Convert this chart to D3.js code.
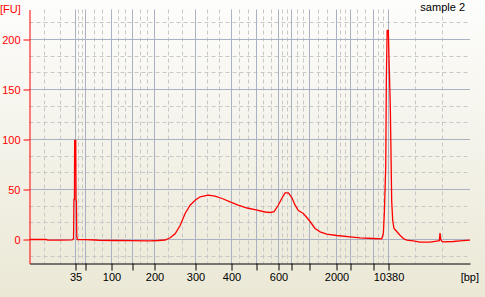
<!DOCTYPE html>
<html>
<head>
<meta charset="utf-8">
<script src="https://cdn.jsdelivr.net/npm/d3@7"></script>
<style>
  body { margin: 0; }
  svg { display: block; font-family: "Liberation Sans", Arial, sans-serif; font-size: 11px; }
</style>
</head>
<body>
<svg id="chart" width="485" height="297"></svg>
<script>
// ladder sizes [bp] and their migration times [s]
var ladderBp    = [35, 50, 100, 150, 200, 300, 400, 500, 600, 700, 1000, 2000, 3000, 7000, 10380]
var ladderTime  = [49.19, 51.26, 56.31, 60.65, 64.96, 73.23, 80.34, 85.33, 89.72, 92.40, 95.99, 101.24, 104.04, 108.69, 111.69]
var shownLabels = [35, 100, 200, 300, 400, 600, 2000, 10380]
var fuTicks     = [0, 50, 100, 150, 200]

// electropherogram: time [s]
var traceTime = [40.00, 43.33, 43.60, 46.13, 48.53, 48.80, 48.88, 48.98, 49.02, 49.24, 49.30, 49.38, 49.44, 49.56,
  51.12, 53.12, 54.12, 57.11, 60.11, 64.10, 65.70, 67.10, 68.10, 69.09, 70.09, 71.09, 72.09, 73.09, 74.09,
  75.68, 77.08, 78.48, 80.08, 81.67, 83.47, 85.47, 87.07, 88.06, 88.86, 89.66, 90.40, 91.06, 91.72, 92.40,
  93.06, 93.71, 94.71, 95.39, 96.05, 97.05, 98.05, 99.38, 101.38, 104.04, 106.03, 108.63, 110.37, 110.69,
  110.89, 111.17, 111.29, 111.45, 111.69, 111.83, 112.08, 112.36, 112.56, 112.82, 113.36, 114.02, 114.68,
  115.36, 116.68, 118.02, 120.01, 121.67, 121.87, 122.01, 122.17, 122.31, 122.67, 124.66, 126.00, 128.00]
// fluorescence [FU]
var traceFU = [0, 0, -0.7, -0.6, -0.4, 1, 40, 40, 99, 99, 40, 38, 3, 0,
  -0.2, -0.5, -0.9, -1.0, -1.2, -1.3, -1.0, -0.5, 1.7, 5.7, 14, 26, 34.3, 39.3, 42.7,
  44.3, 43.3, 41, 37.7, 34.3, 31.5, 29.3, 27.5, 27, 27.8, 34, 41, 46.6, 46.6, 42,
  34.3, 29, 26, 22, 18, 11, 7.6, 5.3, 4, 2.6, 1.7, 1.0, 0.7, 6,
  26.7, 74, 161, 209, 209, 179, 133, 38, 19, 11, 8, 4.3, 1,
  -0.7, -1.3, -2.6, -2.6, -1.3, -1.2, 6.5, 0, -1.5, -2.3, -2, -1.3, -0.7]

var svg = d3.select("#chart")
var W = 485, H = 297

var grad = svg.append("defs").append("linearGradient")
  .attr("id", "bg").attr("x1", 0).attr("y1", 0).attr("x2", 0).attr("y2", 1)
grad.append("stop").attr("offset", "0%").attr("stop-color", "#fdfdfc")
grad.append("stop").attr("offset", "100%").attr("stop-color", "#ebe8d6")
svg.append("rect").attr("width", W).attr("height", H).attr("fill", "url(#bg)")

var x = d3.scaleLinear().domain([40, 128]).range([29.5, 470])
var y = d3.scaleLinear().domain([-24, 230]).range([263.5, 9.5])

// minor lines split every interval in three
function thirds(edges) {
  var out = []
  for (var i = 0; i < edges.length - 1; i++) {
    var a = edges[i], b = edges[i + 1]
    out.push(a + (b - a) / 3, a + 2 * (b - a) / 3)
  }
  return out
}
function inside(scale) {
  var d = scale.domain()
  return function (v) { return v > d[0] && v < d[1] }
}
var xMinor = thirds([40].concat(ladderTime, [128]))
var yMinor = thirds([-50].concat(fuTicks, [250])).filter(inside(y))

function px(v) { return Math.round(v - 0.5) + 0.5 }

var grid = svg.append("g")
function vlines(data, color, dash) {
  grid.selectAll(null).data(data).enter().append("line")
    .attr("x1", function (d) { return px(x(d)) }).attr("x2", function (d) { return px(x(d)) })
    .attr("y1", y.range()[1]).attr("y2", y.range()[0])
    .attr("stroke", color).attr("stroke-dasharray", dash)
}
function hlines(data, color, dash) {
  grid.selectAll(null).data(data).enter().append("line")
    .attr("y1", function (d) { return px(y(d)) }).attr("y2", function (d) { return px(y(d)) })
    .attr("x1", x.range()[0]).attr("x2", x.range()[1])
    .attr("stroke", color).attr("stroke-dasharray", dash)
}
vlines(xMinor, "#c8c8c8", "4,3")
hlines(yMinor, "#c8c8c8", "4,3")
vlines(ladderTime, "#a9b1c2", null)
hlines(fuTicks, "#a9b1c2", null)

// x axis runs in time but is labelled with bp
function snap(t) { return x.invert(px(x(t))) }
var xAxis = d3.axisBottom(x)
  .tickValues(ladderTime.map(snap))
  .tickSize(7).tickSizeOuter(0).tickPadding(3)
  .tickFormat(function (d, i) { return shownLabels.indexOf(ladderBp[i]) >= 0 ? ladderBp[i] : "" })
var gx = svg.append("g").attr("transform", "translate(0," + y.range()[0] + ")").call(xAxis)
  .attr("font-family", null).attr("font-size", null)
gx.selectAll("path, line").attr("stroke", "#000")
gx.selectAll("text").attr("fill", "#000")

var yAxis = d3.axisLeft(y).tickValues(fuTicks).tickSize(6).tickSizeOuter(0).tickPadding(3)
var gy = svg.append("g").attr("transform", "translate(" + x.range()[0] + ",0)").call(yAxis)
  .attr("font-family", null).attr("font-size", null)
gy.selectAll("path, line").attr("stroke", "#ff0000")
gy.selectAll("text").attr("fill", "#ff0000")

var trace = traceTime.map(function (t, i) { return [t, traceFU[i]] })
var line = d3.line().x(function (d) { return x(d[0]) }).y(function (d) { return y(d[1]) })
svg.append("path").datum(trace).attr("d", line)
  .attr("fill", "none").attr("stroke", "#ff0000").attr("stroke-width", 1.3)

svg.append("text").attr("x", 0).attr("y", 13).attr("fill", "#ff0000").text("[FU]")
svg.append("text").attr("x", 465).attr("y", 11).attr("text-anchor", "end").text("sample 2")
svg.append("text").attr("x", 479).attr("y", 281).attr("text-anchor", "end").text("[bp]")
</script>
</body>
</html>
